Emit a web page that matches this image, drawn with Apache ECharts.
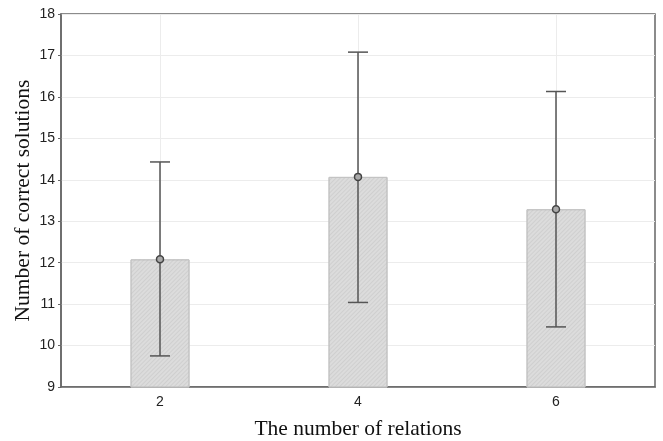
<!DOCTYPE html>
<html>
<head>
<meta charset="utf-8">
<script src="https://cdn.jsdelivr.net/npm/echarts@6/dist/echarts.min.js"></script>
<style>
  html, body { margin: 0; padding: 0; background: #fff; }
  #chart { width: 663px; height: 441px; }
</style>
</head>
<body>
<div id="chart"></div>
<script>
// data
var categories = ["2", "4", "6"];
var means = [12.08, 14.07, 13.29];
var upper = [14.43, 17.08, 16.13];
var lower = [9.75, 11.04, 10.45];
var yTicks = { min: 9, max: 18, interval: 1 };

var chart = echarts.init(document.getElementById("chart"));

var errData = categories.map(function (c, i) {
  return [i, lower[i], upper[i], means[i]];
});

chart.setOption({
  animation: false,
  grid: {
    left: 61,
    right: 8,
    top: 14,
    bottom: 54,
    outerBoundsMode: "none",
    show: true,
    borderColor: "#666",
    borderWidth: 1.5,
  },
  xAxis: [
    {
      type: "category",
      data: categories,
      name: "The number of relations",
      nameLocation: "middle",
      nameGap: 31,
      nameMoveOverlap: false,
      nameTextStyle: {
        fontFamily: "Liberation Serif",
        fontSize: 21.5,
        color: "#111",
      },
      axisLine: { lineStyle: { color: "#666", width: 1.5 } },
      axisTick: {
        inside: true,
        alignWithLabel: true,
        length: 3,
        lineStyle: { color: "#666" },
      },
      axisLabel: {
        fontFamily: "Liberation Sans",
        fontSize: 14,
        color: "#222",
        margin: 8,
      },
      splitLine: { show: false },
    },
    {
      // only used to draw the vertical grid lines through the bar centres
      type: "value",
      min: 0,
      max: 6,
      interval: 1,
      show: true,
      axisLine: { show: false },
      axisTick: { show: false },
      axisLabel: { show: false },
      splitLine: {
        show: true,
        lineStyle: { color: ["rgba(0,0,0,0)", "#ececec"], width: 1 },
      },
    },
  ],
  yAxis: {
    type: "value",
    min: yTicks.min,
    max: yTicks.max,
    interval: yTicks.interval,
    name: "Number of correct solutions",
    nameLocation: "middle",
    nameGap: 27,
    nameMoveOverlap: false,
    nameTextStyle: {
      fontFamily: "Liberation Serif",
      fontSize: 21.5,
      color: "#111",
    },
    axisLine: { show: true, lineStyle: { color: "#666", width: 1.5 } },
    axisTick: { show: true, length: 3, lineStyle: { color: "#666" } },
    axisLabel: {
      fontFamily: "Liberation Sans",
      fontSize: 14,
      color: "#222",
      margin: 6,
    },
    splitLine: { show: true, lineStyle: { color: "#ececec" } },
  },
  series: [
    {
      type: "bar",
      data: means,
      barWidth: 59,
      itemStyle: {
        color: "#dcdcdc",
        borderColor: "#c4c4c4",
        borderWidth: 1,
        decal: {
          symbol: "rect",
          symbolSize: 1,
          dashArrayX: [1, 0],
          dashArrayY: [1, 2],
          rotation: -Math.PI / 4,
          color: "rgba(0,0,0,0.06)",
        },
      },
      z: 2,
    },
    {
      type: "custom",
      data: errData,
      z: 5,
      renderItem: function (params, api) {
        var x = api.value(0);
        var lo = api.coord([x, api.value(1)]);
        var hi = api.coord([x, api.value(2)]);
        var mid = api.coord([x, api.value(3)]);
        var half = 10;
        var style = { stroke: "#555", lineWidth: 1.5, fill: null };
        return {
          type: "group",
          children: [
            { type: "line", shape: { x1: hi[0], y1: hi[1], x2: lo[0], y2: lo[1] }, style: style },
            { type: "line", shape: { x1: hi[0] - half, y1: hi[1], x2: hi[0] + half, y2: hi[1] }, style: style },
            { type: "line", shape: { x1: lo[0] - half, y1: lo[1], x2: lo[0] + half, y2: lo[1] }, style: style },
            {
              type: "circle",
              shape: { cx: mid[0], cy: mid[1], r: 3.5 },
              style: { stroke: "#444", lineWidth: 1.5, fill: "#aaa" },
            },
          ],
        };
      },
    },
  ],
});
</script>
</body>
</html>
